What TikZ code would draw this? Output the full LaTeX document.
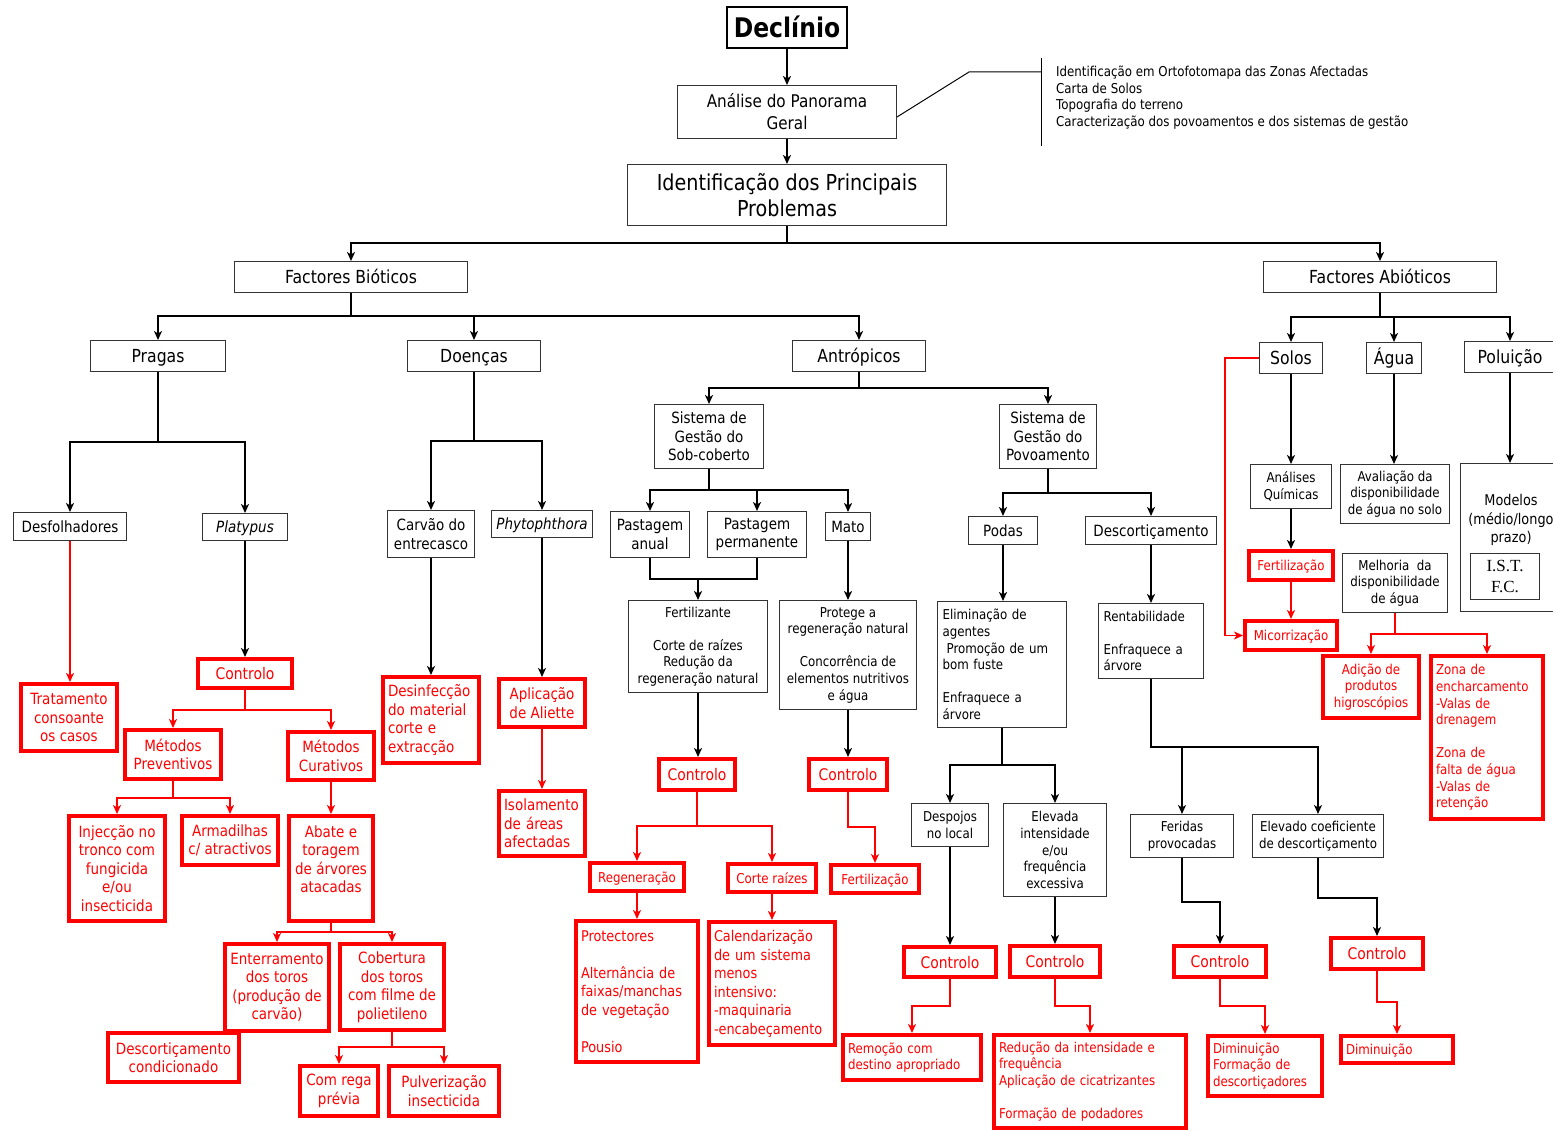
\documentclass[tikz,border=0pt]{standalone}
\usepackage{fontspec}
\setmainfont{DejaVu Sans}[FakeStretch=0.87]
\newfontfamily\serfont{Liberation Serif}
\usetikzlibrary{arrows.meta,calc}
\newcommand\fzH{\fontsize{27}{32}\selectfont}
\newcommand\fzB{\fontsize{22}{25.5}\selectfont}
\newcommand\fzL{\fontsize{18}{21.5}\selectfont}
\newcommand\fzK{\fontsize{17.5}{22}\selectfont}
\newcommand\fzC{\fontsize{16}{19}\selectfont}
\newcommand\fzM{\fontsize{15.5}{18.5}\selectfont}
\newcommand\fzS{\fontsize{14.8}{18.5}\selectfont}
\newcommand\fzX{\fontsize{13.6}{16.6}\selectfont}
\newcommand\fzI{\serfont\fontsize{17}{21}\selectfont}
\tikzset{
 bbox/.style={draw=black!80, line width=1.3pt, fill=white, align=center, inner sep=1pt, text=black, font=\fzM},
 rbox/.style={draw=red, line width=4pt, fill=white, align=center, inner sep=1pt, text=red, font=\fzM},
 lft/.style={align=left, text width=\tw pt, inner xsep=5pt},
 oneH/.style={text height=23pt, text depth=2.7pt},
 oneL/.style={text height=15.3pt, text depth=1.8pt},
 oneC/.style={text height=13.6pt, text depth=1.6pt},
 oneM/.style={text height=13.2pt, text depth=1.55pt},
 oneX/.style={text height=11.6pt, text depth=1.4pt},
 bl/.style={draw=black, line width=2pt},
 rl/.style={draw=red, line width=1.6pt},
 tip/.style={-{Stealth[length=9pt,width=8pt,inset=2.5pt]}},
}
\newcommand\bb[7][]{\pgfmathsetmacro\cx{(#3+#5)/2}\pgfmathsetmacro\cy{(#4+#6)/2}%
 \pgfmathsetmacro\ww{#5-#3-1.3}\pgfmathsetmacro\hh{#6-#4-1.3}\pgfmathsetmacro\tw{\ww-10}%
 \node[bbox,minimum width=\ww pt,minimum height=\hh pt,#1] (#2) at (\cx,\cy) {#7};}
\newcommand\rb[7][]{\pgfmathsetmacro\cx{(#3+#5)/2}\pgfmathsetmacro\cy{(#4+#6)/2}%
 \pgfmathsetmacro\ww{#5-#3-4}\pgfmathsetmacro\hh{#6-#4-4}\pgfmathsetmacro\tw{\ww-10}%
 \node[rbox,minimum width=\ww pt,minimum height=\hh pt,#1] (#2) at (\cx,\cy) {#7};}
\begin{document}
\begin{tikzpicture}[x=1pt,y=-1pt]
\useasboundingbox (0,0) rectangle (1553,1131);
\fill[white] (0,0) rectangle (1553,1131);
% ---------- black boxes
\bb[draw=black,line width=2pt,font=\fzH\bfseries,oneH]{decl}{726}{6}{848}{49}{Declínio}
\bb[font=\fzK]{analise}{677}{85}{897}{139}{Análise do Panorama\\Geral}
\bb[font=\fzB]{ident}{627}{164}{947}{226}{Identificação dos Principais\\Problemas}
\bb[font=\fzL,oneL]{biot}{234}{261}{468}{293}{Factores Bióticos}
\bb[font=\fzL,oneL]{abiot}{1263}{261}{1497}{293}{Factores Abióticos}
\bb[font=\fzL,oneL]{pragas}{90}{340}{226}{372}{Pragas}
\bb[font=\fzL,oneL]{doencas}{407}{340}{541}{372}{Doenças}
\bb[font=\fzL,oneL]{antrop}{792}{340}{926}{372}{Antrópicos}
\bb[font=\fzL,oneL]{solos}{1259}{342}{1323}{374}{Solos}
\bb[font=\fzL,oneL]{agua}{1366}{342}{1422}{374}{Água}
\bb[font=\fzL,oneL]{polu}{1464}{341}{1556}{373}{Poluição}
\bb[oneM]{desf}{13}{512}{127}{541}{Desfolhadores}
\bb[font=\fzM\itshape,oneM]{platy}{202}{513}{288}{541}{Platypus}
\bb{carvao}{387}{510}{475}{558}{Carvão do\\entrecasco}
\bb[font=\fzM\itshape,oneM]{phyto}{491}{510}{593}{538}{Phytophthora}
\bb{sob}{654}{404}{764}{469}{Sistema de\\Gestão do\\Sob-coberto}
\bb{povo}{999}{404}{1097}{469}{Sistema de\\Gestão do\\Povoamento}
\bb{panual}{610}{511}{690}{558}{Pastagem\\anual}
\bb{pperm}{707}{511}{807}{558}{Pastagem\\permanente}
\bb[oneM]{mato}{825}{512}{871}{541}{Mato}
\bb[font=\fzX]{fert}{628}{600}{768}{693}{Fertilizante\\[16.6pt]Corte de raízes\\Redução da\\regeneração natural}
\bb[font=\fzX]{protege}{779}{600}{917}{710}{Protege a\\regeneração natural\\[16.6pt]Concorrência de\\elementos nutritivos\\e água}
\bb[oneM]{podas}{968}{516}{1038}{545}{Podas}
\bb[oneM]{desc}{1085}{516}{1217}{545}{Descortiçamento}
\bb[font=\fzX,lft]{elim}{937}{601}{1067}{728}{Eliminação de\\agentes\\\hspace*{4pt}Promoção de um\\bom fuste\\[16.6pt]Enfraquece a\\árvore}
\bb[font=\fzX,lft]{rentab}{1098}{603}{1204}{679}{Rentabilidade\\[16.6pt]Enfraquece a\\árvore}
\bb[font=\fzX]{despojos}{911}{803}{989}{847}{Despojos\\no local}
\bb[font=\fzX]{elevada}{1003}{803}{1107}{897}{Elevada\\intensidade\\e/ou\\frequência\\excessiva}
\bb[font=\fzX]{feridas}{1130}{814}{1234}{858}{Feridas\\provocadas}
\bb[font=\fzX]{elevcoef}{1252}{814}{1384}{858}{Elevado coeficiente\\de descortiçamento}
\bb[font=\fzX]{anal}{1250}{464}{1332}{509}{Análises\\Químicas}
\bb[font=\fzX]{aval}{1340}{464}{1450}{524}{Avaliação da\\disponibilidade\\de água no solo}
\bb[font=\fzX]{melh}{1342}{553}{1448}{613}{Melhoria\ \ da\\disponibilidade\\de água}
\bb{modelos}{1460}{463}{1562}{612}{}
\node[font=\fzS, align=center, text=black] (modtxt) at (1511,520) {Modelos\\(médio/longo\\prazo)};
\bb[font=\fzI]{ist}{1470}{553}{1540}{600}{I.S.T.\\F.C.}
% ---------- red boxes
\rb{trat}{19}{682}{119}{753}{Tratamento\\consoante\\os casos}
\rb[font=\fzC,oneC]{ctrlP}{196}{657}{294}{690}{Controlo}
\rb{prev}{123}{728}{223}{781}{Métodos\\Preventivos}
\rb{cur}{286}{730}{376}{782}{Métodos\\Curativos}
\rb{inj}{67}{814}{167}{923}{Injecção no\\tronco com\\fungicida\\e/ou\\insecticida}
\rb{arm}{180}{814}{280}{867}{Armadilhas\\c/ atractivos}
\rb{abate}{287}{814}{375}{923}{Abate e\\toragem\\de árvores\\atacadas\\\mbox{}}
\rb{ent}{223}{942}{331}{1033}{Enterramento\\dos toros\\(produção de\\carvão)}
\rb{cob}{338}{942}{446}{1032}{Cobertura\\dos toros\\com filme de\\polietileno}
\rb{desccond}{106}{1031}{241}{1084}{Descortiçamento\\condicionado}
\rb{rega}{298}{1064}{380}{1118}{Com rega\\prévia}
\rb{pulv}{387}{1064}{501}{1118}{Pulverização\\insecticida}
\rb[lft]{desinf}{381}{675}{481}{765}{Desinfecção\\do material\\corte e\\extracção}
\rb{aplic}{497}{677}{587}{729}{Aplicação\\de Aliette}
\rb[lft]{isol}{497}{789}{587}{858}{Isolamento\\de áreas\\afectadas}
\rb[font=\fzC,oneC]{ctrlA}{657}{757}{737}{792}{Controlo}
\rb[font=\fzC,oneC]{ctrlB}{807}{757}{889}{792}{Controlo}
\rb[font=\fzX,oneX]{regen}{588}{861}{686}{893}{Regeneração}
\rb[font=\fzX,oneX]{corte}{726}{862}{818}{894}{Corte raízes}
\rb[font=\fzS,lft]{protec}{574}{919}{700}{1064}{Protectores\\[18.5pt]Alternância de\\faixas/manchas\\de vegetação\\[18.5pt]Pousio}
\rb[font=\fzS,lft]{calend}{707}{920}{837}{1047}{Calendarização\\de um sistema\\menos\\intensivo:\\-maquinaria\\-encabeçamento}
\rb[font=\fzX,oneX]{fertB}{829}{863}{921}{895}{Fertilização}
\rb[font=\fzC,oneC]{ctrlD}{902}{945}{998}{979}{Controlo}
\rb[font=\fzC,oneC]{ctrlE}{1008}{944}{1102}{979}{Controlo}
\rb[font=\fzC,oneC]{ctrlF}{1172}{944}{1268}{979}{Controlo}
\rb[font=\fzC,oneC]{ctrlG}{1329}{936}{1425}{971}{Controlo}
\rb[font=\fzX,lft]{remo}{841}{1033}{983}{1082}{Remoção com\\destino apropriado}
\rb[font=\fzX,lft]{redu}{992}{1033}{1188}{1130}{Redução da intensidade e\\frequência\\Aplicação de cicatrizantes\\[16.6pt]Formação de podadores}
\rb[font=\fzX,lft]{dimC}{1206}{1034}{1324}{1098}{Diminuição\\Formação de\\descortiçadores}
\rb[font=\fzX,lft,oneX]{dimD}{1339}{1034}{1455}{1065}{Diminuição}
\rb[font=\fzX,oneX]{fertS}{1247}{549}{1335}{582}{Fertilização}
\rb[font=\fzX,oneX]{mico}{1243}{619}{1339}{652}{Micorrização}
\rb[font=\fzX]{adic}{1321}{654}{1421}{720}{Adição de\\produtos\\higroscópios}
\rb[font=\fzX,lft]{zona}{1429}{654}{1545}{821}{Zona de\\encharcamento\\-Valas de\\drenagem\\[16.6pt]Zona de\\falta de água\\-Valas de\\retenção}
% ---------- annotation
\coordinate (k1) at (969,72);
\coordinate (k2) at (1041,72);
\coordinate (v1) at (1041,58);
\coordinate (v2) at (1041,146);
\draw[black, line width=1pt] ($(analise.east)+(0,5)$) -- (k1) -- (k2);
\draw[black, line width=1pt] (v1) -- (v2);
\node[anchor=north west, align=left, font=\fzX, inner sep=0pt, text=black] (annot) at (1056,66) {Identificação em Ortofotomapa das Zonas Afectadas\\Carta de Solos\\Topografia do terreno\\Caracterização dos povoamentos e dos sistemas de gestão};
% ---------- black connectors
\draw[bl,tip] (decl.south) -- (decl.south |- analise.north);
\draw[bl,tip] (analise.south) -- (analise.south |- ident.north);
\draw[bl,tip] (ident.south) -- ++(0,17) -| (biot.north);
\draw[bl,tip] (ident.south) -- ++(0,17) -| (abiot.north);
\draw[bl,tip] (biot.south) -- ++(0,23) -| (pragas.north);
\draw[bl,tip] (biot.south) -- ++(0,23) -| (doencas.north);
\draw[bl,tip] (biot.south) -- ++(0,23) -| (antrop.north);
\draw[bl,tip] (abiot.south) -- ++(0,24) -| (solos.north);
\draw[bl,tip] (abiot.south) -- ++(0,24) -| (agua.north);
\draw[bl,tip] (abiot.south) -- ++(0,24) -| (polu.north);
\draw[bl,tip] (pragas.south) -- ++(0,70) -| (desf.north);
\draw[bl,tip] (pragas.south) -- ++(0,70) -| (platy.north);
\draw[bl,tip] (doencas.south) -- ++(0,69) -| (carvao.north);
\draw[bl,tip] (doencas.south) -- ++(0,69) -| (phyto.north);
\draw[bl,tip] (antrop.south) -- ++(0,16) -| (sob.north);
\draw[bl,tip] (antrop.south) -- ++(0,16) -| (povo.north);
\draw[bl,tip] (sob.south) -- ++(0,21) -| (panual.north);
\draw[bl,tip] (sob.south) -- ++(0,21) -| (pperm.north);
\draw[bl,tip] (sob.south) -- ++(0,21) -| (mato.north);
\draw[bl] (panual.south) -- ++(0,21) coordinate (j1) -| (pperm.south);
\draw[bl,tip] (j1 -| fert.north) -- (fert.north);
\draw[bl,tip] (mato.south) -- (mato.south |- protege.north);
\draw[bl,tip] (fert.south) -- (fert.south |- ctrlA.north);
\draw[bl,tip] (protege.south) -- (protege.south |- ctrlB.north);
\draw[bl,tip] (povo.south) -- ++(0,24) -| (podas.north);
\draw[bl,tip] (povo.south) -- ++(0,24) -| (desc.north);
\draw[bl,tip] (podas.south) -- (podas.south |- elim.north);
\draw[bl,tip] (desc.south) -- (desc.south |- rentab.north);
\draw[bl,tip] (elim.south) -- ++(0,37) -| (despojos.north);
\draw[bl,tip] (elim.south) -- ++(0,37) -| (elevada.north);
\draw[bl,tip] (rentab.south) -- ++(0,68) coordinate (j2) -| (elevcoef.north);
\draw[bl,tip] (j2 -| feridas.north) -- (feridas.north);
\draw[bl,tip] (despojos.south) -- (despojos.south |- ctrlD.north);
\draw[bl,tip] (elevada.south) -- (elevada.south |- ctrlE.north);
\draw[bl,tip] (feridas.south) -- ++(0,44) -| (ctrlF.north);
\draw[bl,tip] (elevcoef.south) -- ++(0,40) -| (ctrlG.north);
\draw[bl,tip] (solos.south) -- (solos.south |- anal.north);
\draw[bl,tip] (agua.south) -- (agua.south |- aval.north);
\draw[bl,tip] (polu.south) -- (polu.south |- modelos.north);
\draw[bl,tip] (anal.south) -- (anal.south |- fertS.north);
\draw[bl,tip] (platy.south) -- (platy.south |- ctrlP.north);
\draw[bl,tip] (carvao.south) -- (carvao.south |- desinf.north);
\draw[bl,tip] (phyto.south) -- (phyto.south |- aplic.north);
% ---------- red connectors
\draw[rl,tip] (desf.south) -- (desf.south |- trat.north);
\draw[rl,tip] (ctrlP.south) -- ++(0,20) -| (prev.north);
\draw[rl,tip] (ctrlP.south) -- ++(0,20) -| (cur.north);
\draw[rl,tip] (prev.south) -- ++(0,17) -| (inj.north);
\draw[rl,tip] (prev.south) -- ++(0,17) -| (arm.north);
\draw[rl,tip] (cur.south) -- (cur.south |- abate.north);
\draw[rl,tip] (abate.south) -- ++(0,9) -| (ent.north);
\draw[rl,tip] (abate.south) -- ++(0,9) -| (cob.north);
\draw[rl,tip] (cob.south) -- ++(0,15) -| (rega.north);
\draw[rl,tip] (cob.south) -- ++(0,15) -| (pulv.north);
\draw[rl,tip] (aplic.south) -- (aplic.south |- isol.north);
\draw[rl,tip] (ctrlA.south) -- ++(0,34) -| (regen.north);
\draw[rl,tip] (ctrlA.south) -- ++(0,34) -| (corte.north);
\draw[rl,tip] (regen.south) -- (regen.south |- protec.north);
\draw[rl,tip] (corte.south) -- (corte.south |- calend.north);
\draw[rl,tip] (ctrlB.south) -- ++(0,35) -| (fertB.north);
\draw[rl,tip] (ctrlD.south) -- ++(0,27) -| (remo.north);
\draw[rl,tip] (ctrlE.south) -- ++(0,27) -| (redu.north);
\draw[rl,tip] (ctrlF.south) -- ++(0,27) -| (dimC.north);
\draw[rl,tip] (ctrlG.south) -- ++(0,31) -| (dimD.north);
\draw[rl,tip] (fertS.south) -- (fertS.south |- mico.north);
\draw[rl,tip] (solos.west) -- ++(-34,0) |- (mico.west);
\draw[rl,tip] (melh.south) -- ++(0,21) -| (adic.north);
\draw[rl,tip] (melh.south) -- ++(0,21) -| (zona.north);
\end{tikzpicture}
\end{document}
